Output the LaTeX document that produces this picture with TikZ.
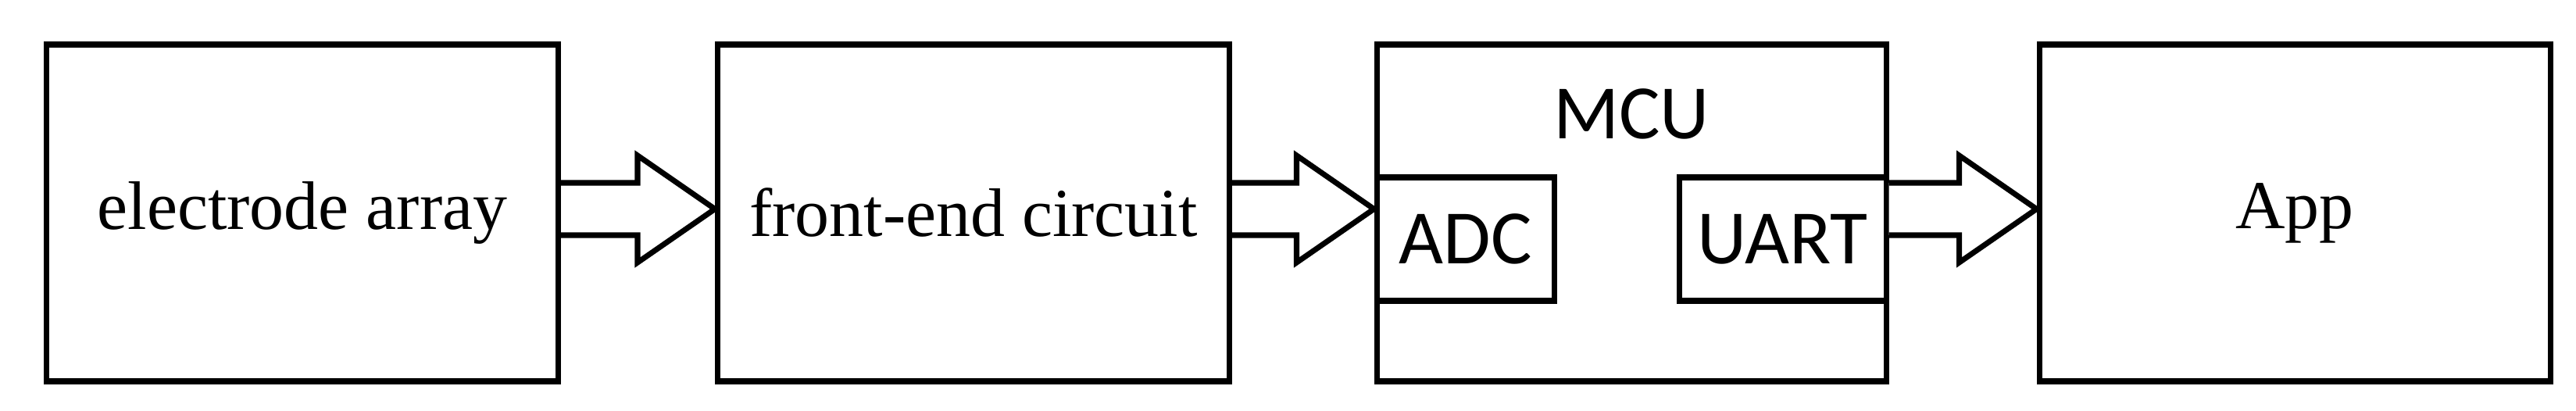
\documentclass[tikz,border=0pt]{standalone}
\usepackage{fontspec}
\setmainfont{Liberation Serif}
\newfontfamily\sansf{Carlito}
\usetikzlibrary{calc}
\tikzset{
 blk/.style={draw,line width=2pt,minimum width=6.55cm,minimum height=4.31cm,inner sep=0pt,font=\fontsize{25}{30}\selectfont},
 sub/.style={draw,line width=2pt,inner sep=0pt,minimum height=1.58cm,font=\sansf\fontsize{28}{32}\selectfont},
 fat/.style={draw,line width=2pt,fill=white,line join=miter}
}
\newcommand\fatarr[2]{%
 \draw[fat] let \p1=(#1.east), \p2=(#2.west) in
  (\x1,\y1+0.385cm) -- (\x2-0.99cm,\y1+0.385cm) -- (\x2-0.99cm,\y1+0.735cm) -- (\x2,\y1+0.05cm)
  -- (\x2-0.99cm,\y1-0.635cm) -- (\x2-0.99cm,\y1-0.285cm) -- (\x1,\y1-0.285cm);}
\begin{document}
\begin{tikzpicture}
\useasboundingbox (0,0) rectangle (32.97,5.26);
\node[blk] (ea) at (3.87,2.535) {electrode array};
\node[blk] (fe) at (12.46,2.535) {front-end circuit};
\node[blk,minimum width=6.52cm] (mcu) at (20.88,2.535) {};
\node[blk,minimum width=6.54cm] (app) at (29.37,2.535) {App};
\node[font=\sansf\fontsize{28}{32}\selectfont] (mt) at (20.88,3.8) {MCU};
\node[sub,minimum width=2.27cm] (adc) at (18.755,2.2) {ADC};
\node[sub,minimum width=2.65cm] (uart) at (22.815,2.2) {UART};
\fatarr{ea}{fe}
\fatarr{fe}{mcu}
\fatarr{mcu}{app}
\end{tikzpicture}
\end{document}
